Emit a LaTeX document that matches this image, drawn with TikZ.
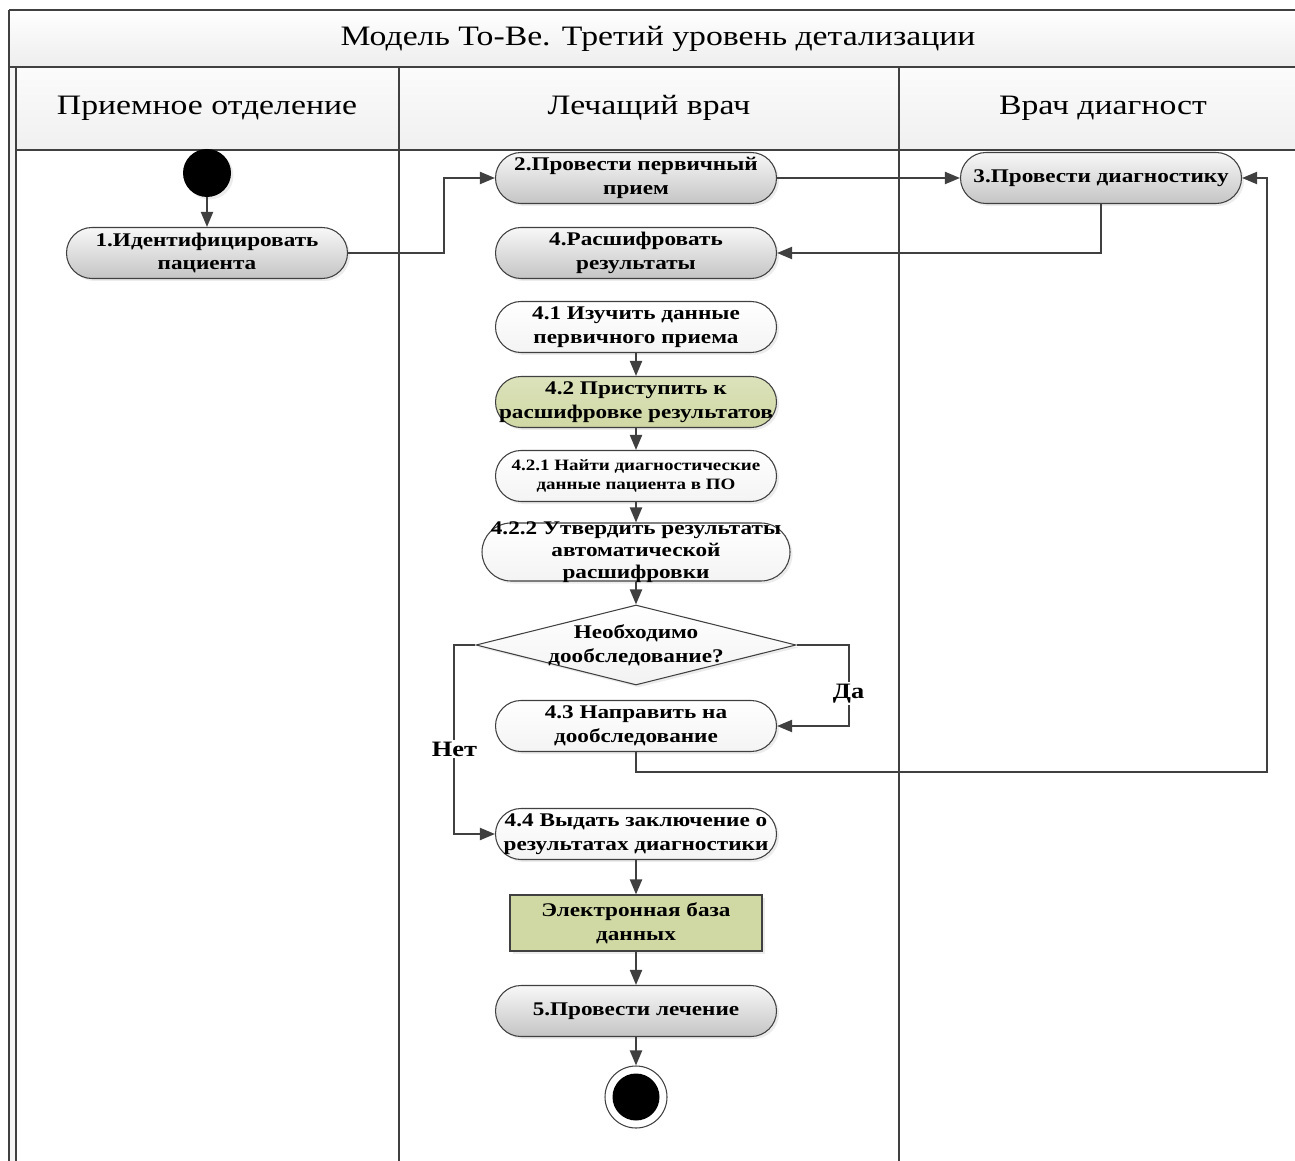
\documentclass[tikz,border=0pt]{standalone}
\usepackage{fontspec}
\setmainfont{Liberation Serif}[FakeStretch=1.2]
\usepackage{tikz}
\usetikzlibrary{arrows.meta,positioning,shapes.geometric,shadows}
\definecolor{linecol}{RGB}{64,64,64}
\definecolor{actgray}{RGB}{196,196,196}
\definecolor{actgreen}{RGB}{208,216,164}
\definecolor{hdrcol}{RGB}{240,240,240}
\tikzset{
  act/.style={rectangle,rounded corners=5.1mm,draw=linecol,line width=0.6pt,top color=gray!6,bottom color=actgray,minimum width=56.2mm,minimum height=10.2mm,inner xsep=0pt,inner ysep=1pt,align=center,font=\fontsize{11}{13.6}\selectfont\bfseries,drop shadow={shadow xshift=0.5mm,shadow yshift=-0.5mm,fill=gray!30}},
  actw/.style={act,top color=white,bottom color=gray!9},
  actg/.style={act,top color=actgreen!75,bottom color=actgreen},
  dec/.style={diamond,draw=linecol,line width=0.6pt,top color=white,bottom color=gray!10,minimum width=64mm,minimum height=16mm,inner sep=0pt,drop shadow={shadow xshift=0.5mm,shadow yshift=-0.5mm,fill=gray!30}},
  store/.style={rectangle,draw=linecol,line width=0.6pt,fill=actgreen,minimum width=50.4mm,minimum height=11.2mm,align=center,font=\fontsize{11}{13.6}\selectfont\bfseries,drop shadow={shadow xshift=0.5mm,shadow yshift=-0.5mm,fill=gray!30}},
  startn/.style={circle,fill=black,minimum size=9.6mm,inner sep=0pt,drop shadow={shadow xshift=0.5mm,shadow yshift=-0.5mm,fill=gray!30}},
  endn/.style={circle,draw=linecol,line width=0.6pt,fill=white,minimum size=12.4mm,inner sep=0pt,path picture={\fill[black] (path picture bounding box.center) circle (4.7mm);}},
  hdr/.style={font=\fontsize{16}{18}\selectfont,inner sep=1pt},
  lbl/.style={fill=white,inner sep=1pt,font=\fontsize{12.5}{14}\selectfont\bfseries},
  lane/.style={draw=linecol,line width=0.35mm},
  arr/.style={-{Triangle[length=3mm,width=2.4mm]},draw=linecol,line width=0.4mm}
}

\begin{document}
\begin{tikzpicture}[x=0.2mm,y=-0.2mm]
  \useasboundingbox (0,0) rectangle (1295,1161);
  % swimlane frame
  \fill[top color=white,bottom color=gray!14] (9,10) rectangle (1295,67);
  \fill[top color=gray!3,bottom color=hdrcol] (16,67) rectangle (1295,150);
  \fill[gray!8] (9,67) rectangle (16,1161);
  \draw[lane] (9,10) -- (1295,10);
  \draw[lane] (9,67) -- (1295,67);
  \draw[lane] (16,150) -- (1295,150);
  \draw[lane] (9,10) -- (9,1161);
  \draw[lane] (16,67) -- (16,1161);
  \draw[lane] (399,67) -- (399,1161);
  \draw[lane] (899,67) -- (899,1161);
  \node[hdr] (title) at (658,39) {Модель To-Be. Третий уровень детализации};
  \node[hdr] (h1) at (207,108) {Приемное отделение};
  \node[hdr] (h2) at (649,108) {Лечащий врач};
  \node[hdr] (h3) at (1103,108) {Врач диагност};
  % activities
  \node[startn] (start) at (207,173) {};
  \node[act] (n1) at (207,253) {1.Идентифицировать\\пациента};
  \node[act] (n2) at (636,178) {2.Провести первичный\\прием};
  \node[act] (n3) at (1101,178) {3.Провести диагностику};
  \node[act] (n4) at (636,253) {4.Расшифровать\\результаты};
  \node[actw] (n41) at (636,327) {4.1 Изучить данные\\первичного приема};
  \node[actg] (n42) at (636,402) {4.2 Приступить к\\расшифровке результатов};
  \node[actw,font=\fontsize{9}{10.8}\selectfont\bfseries] (n421) at (636,476) {4.2.1 Найти диагностические\\данные пациента в ПО};
  \node[actw,minimum width=61.6mm,minimum height=11.6mm,rounded corners=5.8mm,inner ysep=-2pt,font=\fontsize{11}{12.4}\selectfont\bfseries] (n422) at (636,552) {4.2.2 Утвердить результаты\\автоматической\\расшифровки};
  \node[dec,label={[font=\fontsize{11}{13.6}\selectfont\bfseries,align=center]center:{Необходимо\\дообследование?}}] (d1) at (636,645) {};
  \node[actw] (n43) at (636,726) {4.3 Направить на\\дообследование};
  \node[actw] (n44) at (636,834) {4.4 Выдать заключение о\\результатах диагностики};
  \node[store] (db) at (636,923) {Электронная база\\данных};
  \node[act] (n5) at (636,1011) {5.Провести лечение};
  \node[endn] (end) at (636,1097) {};
  \coordinate (back) at (1267,772);
  % flows
  \draw[arr] (start) -- (n1);
  \draw[arr] (n1.east) -- ++(96,0) |- (n2.west);
  \draw[arr] (n2) -- (n3);
  \draw[arr] (n3.south) |- (n4.east);
  \draw[arr] (n41) -- (n42);
  \draw[arr] (n42) -- (n421);
  \draw[arr] (n421) -- (n422);
  \draw[arr] (n422) -- (d1);
  \draw[arr] (d1.east) -- ++(52,0) |- node[lbl,pos=0.3] {Да} (n43.east);
  \draw[arr] (d1.west) -- ++(-21,0) |- node[lbl,pos=0.275] {Нет} (n44.west);
  \draw[arr] (n43.south) |- (back) |- (n3.east);
  \draw[arr] (n44) -- (db);
  \draw[arr] (db) -- (n5);
  \draw[arr] (n5) -- (end);
\end{tikzpicture}
\end{document}
